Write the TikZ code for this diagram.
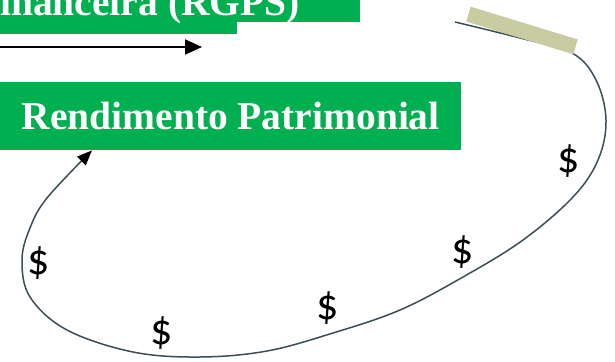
\documentclass[tikz,border=0pt]{standalone}
\usepackage{fontspec}
\setmainfont{Liberation Serif}
\newfontfamily\dollarfont{Carlito}
\usetikzlibrary{arrows.meta}

\definecolor{verde}{RGB}{0,176,80}
\definecolor{fita}{RGB}{201,203,160}
\definecolor{ardosia}{RGB}{59,78,87}

\tikzset{
    caixa/.style={fill=verde, text=white, font=\fontsize{39.5}{42}\selectfont\bfseries, inner sep=0pt},
    moeda/.style={font=\dollarfont\fontsize{44}{46}\selectfont, inner sep=0pt},
    trajeto/.style={draw=ardosia, line width=1.5pt},
}

\begin{document}
\begin{tikzpicture}[x=1pt, y=-1pt]
        % ================= moldura =================
        \useasboundingbox (0,0) rectangle (615,361);
        \clip (0,0) rectangle (615,361);

        % 1. faixa verde do topo (cortada)
        \fill[verde] (0,0) rectangle (360,22);
        \fill[verde] (0,22) rectangle (237,34);
        \node[caixa, fill=none, anchor=base west] (rgps) at (0,16) {inanceira (RGPS)};

        % 2. seta horizontal
        \coordinate (sa) at (0,47);
        \coordinate (sb) at (202,47);
        \draw[-{Triangle[length=17pt, width=15pt]}, line width=2pt] (sa) -- (sb);

        % 3. caixa Rendimento Patrimonial
        \node[caixa, minimum width=461pt, minimum height=68pt, anchor=north west] (rend) at (0,82) {Rendimento Patrimonial};

        % 4. trajeto do dinheiro
        \coordinate (inicio) at (455,22);
        \draw[trajeto, -{Triangle[length=15pt, width=12pt, black]}]
            plot[smooth, tension=0.6] coordinates {(inicio) (520,38) (572,53) (596,80) (606,120) (598,160) (573,197) (523,240) (463,277) (400,310) (333,333) (267,351) (200,357) (133,352) (67,330) (30,297) (22,260) (30,228) (47,198) ([xshift=92pt]rend.south west)};

        % 5. fita adesiva por cima
        \node[fill=fita, minimum width=112pt, minimum height=15.5pt, inner sep=0pt, rotate=-17] (fita) at (522,30.5) {};

        % 6. cifroes
        \node[moeda] (d1) at (39,263) {\$};
        \node[moeda] (d2) at (162,333) {\$};
        \node[moeda] (d3) at (328,308) {\$};
        \node[moeda] (d4) at (463,252) {\$};
        \node[moeda] (d5) at (569,161) {\$};
\end{tikzpicture}
\end{document}
